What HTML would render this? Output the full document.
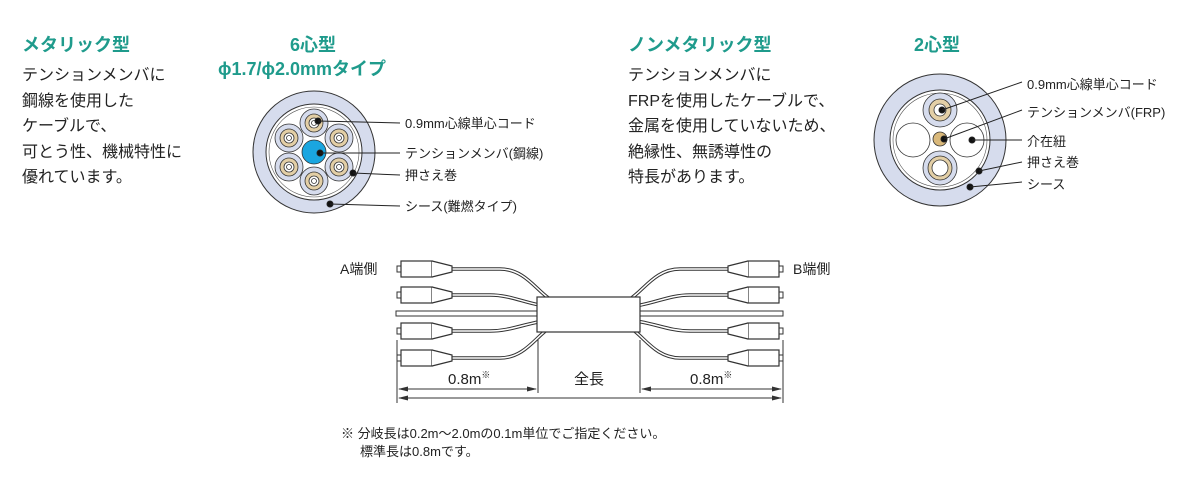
<!DOCTYPE html>
<html><head><meta charset="utf-8"><style>
body{margin:0;background:#fff;width:1201px;height:472px;overflow:hidden;font-family:"Liberation Sans","Noto Sans CJK JP",sans-serif}
</style></head><body>
<svg width="1201" height="472" viewBox="0 0 1201 472" font-family="Liberation Sans, Noto Sans CJK JP, sans-serif">
<defs>
<g id="conn"><rect x="397" y="-3" width="4" height="6" fill="#fff" stroke="#333" stroke-width="1"/><rect x="401" y="-8" width="31" height="16" fill="#fff" stroke="#333" stroke-width="1.2"/><path d="M432 -8 L452 -3 L452 3 L432 8" fill="#fff" stroke="#333" stroke-width="1.2"/></g>
</defs>
<g fill="#1f9b8c" font-weight="bold" font-size="18">
<text x="22" y="51">メタリック型</text>
<text x="290" y="51">6心型</text>
<text x="218" y="75">ϕ1.7/ϕ2.0mmタイプ</text>
<text x="628" y="51">ノンメタリック型</text>
<text x="914" y="51">2心型</text>
</g>
<g fill="#222" font-size="16">
<text x="22" y="80">テンションメンバに</text>
<text x="22" y="106">鋼線を使用した</text>
<text x="22" y="131">ケーブルで、</text>
<text x="22" y="157">可とう性、機械特性に</text>
<text x="22" y="182">優れています。</text>
<text x="628" y="80">テンションメンバに</text>
<text x="628" y="106">FRPを使用したケーブルで、</text>
<text x="628" y="131">金属を使用していないため、</text>
<text x="628" y="157">絶縁性、無誘導性の</text>
<text x="628" y="182">特長があります。</text>
</g>
<!-- 6 core -->
<circle cx="314" cy="152" r="61" fill="#d6dced" stroke="#333" stroke-width="1"/>
<circle cx="314" cy="152" r="48" fill="#fff" stroke="#333" stroke-width="1"/>
<circle cx="314" cy="152" r="45" fill="none" stroke="#555" stroke-width="0.6"/>
<g stroke="#333" stroke-width="0.8">
<g transform="translate(314,123)"><circle r="14" fill="#d6dced"/><circle r="9" fill="#e3cfa6"/><circle r="5" fill="#fff"/><circle r="2.5" fill="#fff"/></g>
<g transform="translate(289,138)"><circle r="14" fill="#d6dced"/><circle r="9" fill="#e3cfa6"/><circle r="5" fill="#fff"/><circle r="2.5" fill="#fff"/></g>
<g transform="translate(339,138)"><circle r="14" fill="#d6dced"/><circle r="9" fill="#e3cfa6"/><circle r="5" fill="#fff"/><circle r="2.5" fill="#fff"/></g>
<g transform="translate(289,167)"><circle r="14" fill="#d6dced"/><circle r="9" fill="#e3cfa6"/><circle r="5" fill="#fff"/><circle r="2.5" fill="#fff"/></g>
<g transform="translate(339,167)"><circle r="14" fill="#d6dced"/><circle r="9" fill="#e3cfa6"/><circle r="5" fill="#fff"/><circle r="2.5" fill="#fff"/></g>
<g transform="translate(314,181)"><circle r="14" fill="#d6dced"/><circle r="9" fill="#e3cfa6"/><circle r="5" fill="#fff"/><circle r="2.5" fill="#fff"/></g>
<circle cx="314" cy="152" r="12" fill="#1aa6e0"/>
</g>
<g stroke="#222" stroke-width="1" fill="#111">
<circle cx="318" cy="121" r="3"/><line x1="318" y1="121" x2="400" y2="123"/>
<circle cx="320" cy="153" r="3"/><line x1="320" y1="153" x2="400" y2="153"/>
<circle cx="353" cy="173" r="3"/><line x1="353" y1="173" x2="400" y2="175"/>
<circle cx="330" cy="204" r="3"/><line x1="330" y1="204" x2="400" y2="206"/>
</g>
<g font-size="13" fill="#222">
<text x="405" y="128">0.9mm心線単心コード</text>
<text x="405" y="158">テンションメンバ(鋼線)</text>
<text x="405" y="180">押さえ巻</text>
<text x="405" y="211">シース(難燃タイプ)</text>
</g>
<!-- 2 core -->
<circle cx="940" cy="140" r="66" fill="#d6dced" stroke="#333" stroke-width="1"/>
<circle cx="940" cy="140" r="50" fill="#fff" stroke="#333" stroke-width="1"/>
<circle cx="940" cy="140" r="47" fill="none" stroke="#555" stroke-width="0.6"/>
<g stroke="#333" stroke-width="0.8">
<circle cx="913" cy="140" r="17" fill="#fff"/>
<circle cx="967" cy="140" r="17" fill="#fff"/>
<circle cx="940" cy="110" r="17" fill="#d6dced"/><circle cx="940" cy="110" r="11" fill="#e3cfa6"/><circle cx="940" cy="110" r="6" fill="#fff"/>
<circle cx="940" cy="168" r="17" fill="#d6dced"/><circle cx="940" cy="168" r="12" fill="#e3cfa6"/><circle cx="940" cy="168" r="8" fill="#fff"/>
<circle cx="940" cy="139" r="7" fill="#d9b87a"/>
</g>
<g stroke="#222" stroke-width="1" fill="#111">
<circle cx="942" cy="110" r="3"/><line x1="942" y1="110" x2="1022" y2="82"/>
<circle cx="944" cy="139" r="3"/><line x1="944" y1="139" x2="1022" y2="110"/>
<circle cx="972" cy="140" r="3"/><line x1="972" y1="140" x2="1022" y2="140"/>
<circle cx="979" cy="171" r="3"/><line x1="979" y1="171" x2="1022" y2="162"/>
<circle cx="970" cy="187" r="3"/><line x1="970" y1="187" x2="1022" y2="182"/>
</g>
<g font-size="13" fill="#222">
<text x="1027" y="89">0.9mm心線単心コード</text>
<text x="1027" y="117">テンションメンバ(FRP)</text>
<text x="1027" y="146">介在紐</text>
<text x="1027" y="167">押さえ巻</text>
<text x="1027" y="189">シース</text>
</g>
<!-- fanout -->
<text x="340" y="274" font-size="14" fill="#222">A端側</text>
<text x="793" y="274" font-size="14" fill="#222">B端側</text>
<g fill="none" stroke="#333" stroke-width="3.5">
<path d="M452 269 L500 269 C530 269 540 300 560 303 L570 303"/>
<path d="M452 295 L490 295 C515 295 530 307 560 307 L570 307"/>
<path d="M452 331 L490 331 C515 331 530 320 560 320 L570 320"/>
<path d="M452 358 L500 358 C530 358 540 326 560 324 L570 324"/>
</g>
<g fill="none" stroke="#fff" stroke-width="1.5">
<path d="M452 269 L500 269 C530 269 540 300 560 303 L570 303"/>
<path d="M452 295 L490 295 C515 295 530 307 560 307 L570 307"/>
<path d="M452 331 L490 331 C515 331 530 320 560 320 L570 320"/>
<path d="M452 358 L500 358 C530 358 540 326 560 324 L570 324"/>
</g>
<g transform="translate(1180,0) scale(-1,1)">
<g fill="none" stroke="#333" stroke-width="3.5">
<path d="M452 269 L500 269 C530 269 540 300 560 303 L570 303"/>
<path d="M452 295 L490 295 C515 295 530 307 560 307 L570 307"/>
<path d="M452 331 L490 331 C515 331 530 320 560 320 L570 320"/>
<path d="M452 358 L500 358 C530 358 540 326 560 324 L570 324"/>
</g>
<g fill="none" stroke="#fff" stroke-width="1.5">
<path d="M452 269 L500 269 C530 269 540 300 560 303 L570 303"/>
<path d="M452 295 L490 295 C515 295 530 307 560 307 L570 307"/>
<path d="M452 331 L490 331 C515 331 530 320 560 320 L570 320"/>
<path d="M452 358 L500 358 C530 358 540 326 560 324 L570 324"/>
</g>
</g>
<rect x="396" y="311" width="387" height="5" fill="#fff" stroke="#333" stroke-width="1"/>
<rect x="537" y="297" width="103" height="35" fill="#fff" stroke="#333" stroke-width="1.2"/>
<use href="#conn" transform="translate(0,269)"/>
<use href="#conn" transform="translate(0,295)"/>
<use href="#conn" transform="translate(0,331)"/>
<use href="#conn" transform="translate(0,358)"/>
<g transform="translate(1180,0) scale(-1,1)">
<use href="#conn" transform="translate(0,269)"/>
<use href="#conn" transform="translate(0,295)"/>
<use href="#conn" transform="translate(0,331)"/>
<use href="#conn" transform="translate(0,358)"/>
</g>
<g stroke="#333" stroke-width="1">
<line x1="397" y1="340" x2="397" y2="403"/>
<line x1="538" y1="340" x2="538" y2="393"/>
<line x1="640" y1="340" x2="640" y2="393"/>
<line x1="783" y1="340" x2="783" y2="403"/>
<line x1="399" y1="389" x2="536" y2="389"/>
<line x1="642" y1="389" x2="781" y2="389"/>
<line x1="399" y1="398" x2="781" y2="398"/>
</g>
<g fill="#333">
<path d="M398 389 l10 -2.5 v5z"/><path d="M537 389 l-10 -2.5 v5z"/>
<path d="M641 389 l10 -2.5 v5z"/><path d="M782 389 l-10 -2.5 v5z"/>
<path d="M398 398 l10 -2.5 v5z"/><path d="M782 398 l-10 -2.5 v5z"/>
</g>
<g font-size="15" fill="#222">
<text x="448" y="384">0.8m<tspan font-size="9" dy="-6">※</tspan></text>
<text x="574" y="384">全長</text>
<text x="690" y="384">0.8m<tspan font-size="9" dy="-6">※</tspan></text>
</g>
<g font-size="13" fill="#222">
<text x="341" y="438">※ 分岐長は0.2m～2.0mの0.1m単位でご指定ください。</text>
<text x="360" y="456">標準長は0.8mです。</text>
</g>
</svg>
</body></html>
